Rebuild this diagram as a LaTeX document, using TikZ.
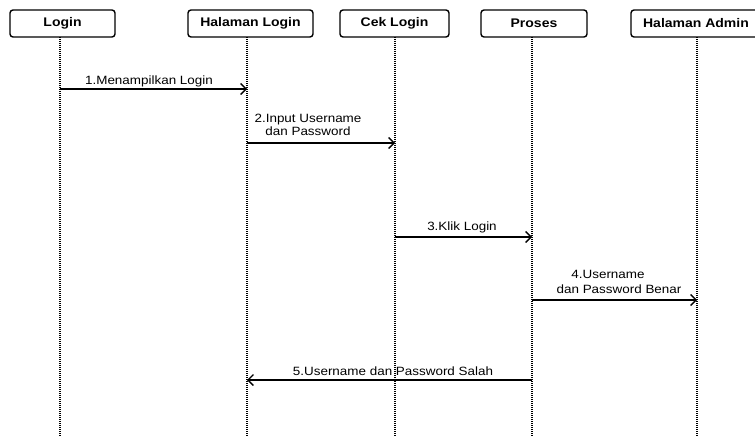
\documentclass[tikz,border=0pt]{standalone}
\usepackage{fontspec}
\setmainfont{Liberation Sans}[FakeStretch=1.12]
\usetikzlibrary{arrows.meta}
\begin{document}
\begin{tikzpicture}[x=1pt,y=-1pt,
  actor/.style={draw,line width=1.4pt,rounded corners=3pt,minimum height=27pt,inner sep=0pt,font=\fontsize{12.5}{14}\selectfont\bfseries},
  life/.style={line width=2.3pt,dash pattern=on 1pt off 1pt},
  msg/.style={line width=1.4pt,-{Straight Barb[length=5.5pt,width=11pt,line width=1.4pt]}},
  lbl/.style={inner sep=0pt,font=\fontsize{12}{13.5}\selectfont,align=center}]
\useasboundingbox (0,0) rectangle (755,436);
\clip (0,0) rectangle (755,436);
% actors
\node[actor,minimum width=105pt] (a1) at (62.5,23.5) {Login};
\node[actor,minimum width=125pt] (a2) at (250.5,23.5) {Halaman Login};
\node[actor,minimum width=109pt] (a3) at (394.5,23.5) {Cek Login};
\node[actor,minimum width=106pt] (a4) at (534,23.5) {Proses};
\node[actor,minimum width=130pt] (a5) at (696,23.5) {Halaman Admin};
% lifelines
\coordinate (t1) at (60,37);  \coordinate (b1) at (60,436);
\coordinate (t2) at (247,37); \coordinate (b2) at (247,436);
\coordinate (t3) at (395,37); \coordinate (b3) at (395,436);
\coordinate (t4) at (532,37); \coordinate (b4) at (532,436);
\coordinate (t5) at (697,37); \coordinate (b5) at (697,436);
\foreach \i in {1,...,5} \draw[life] (t\i) -- (b\i);
% message points
\coordinate (m1s) at (60,89);  \coordinate (m1e) at (247,89);
\coordinate (m2s) at (247,143); \coordinate (m2e) at (395,143);
\coordinate (m3s) at (395,237); \coordinate (m3e) at (532,237);
\coordinate (m4s) at (532,300); \coordinate (m4e) at (697,300);
\coordinate (m5s) at (532,380); \coordinate (m5e) at (247,380);
\draw[msg] (m1s) -- (m1e);
\draw[msg] (m2s) -- (m2e);
\draw[msg] (m3s) -- (m3e);
\draw[msg] (m4s) -- (m4e);
\draw[msg] (m5s) -- (m5e);
% labels
\node[lbl] (l1) at (149,81) {1.Menampilkan Login};
\node[lbl] (l2) at (308,125) {2.Input Username\\dan Password};
\node[lbl] (l3) at (462,227) {3.Klik Login};
\node[lbl] (l4a) at (608,274) {4.Username};
\node[lbl] (l4b) at (619,289) {dan Password Benar};
\node[lbl] (l5) at (393,371) {5.Username dan Password Salah};
\end{tikzpicture}
\end{document}
